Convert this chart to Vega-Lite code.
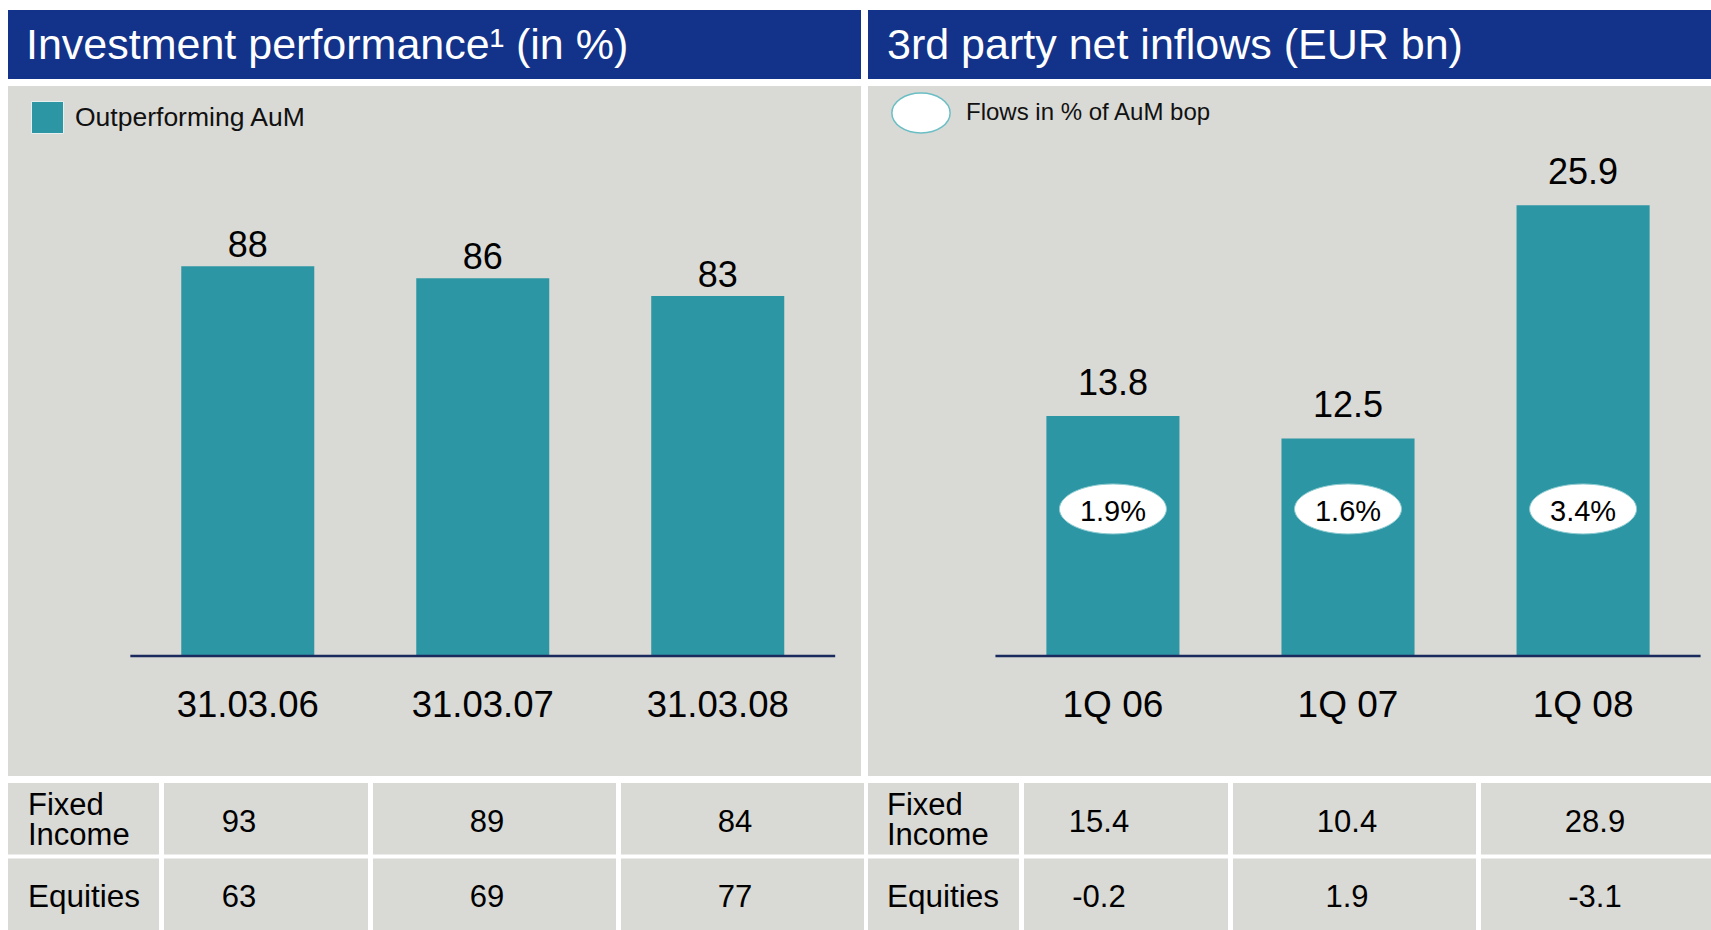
{
  "$schema": "https://vega.github.io/schema/vega-lite/v6.json",
  "background": "#FFFFFF",
  "padding": {"left": 8, "top": 10, "right": 0, "bottom": 0},
  "config": {
    "font": "Liberation Sans",
    "view": {"stroke": null},
    "axis": {"labelFont": "Liberation Sans"},
    "legend": {"labelFont": "Liberation Sans"},
    "title": {"font": "Liberation Sans"},
    "text": {"font": "Liberation Sans"}
  },
  "datasets": {
    "perf": [
      {"date": "31.03.06", "outperforming": 88},
      {"date": "31.03.07", "outperforming": 86},
      {"date": "31.03.08", "outperforming": 83}
    ],
    "flows": [
      {"quarter": "1Q 06", "net_inflow": 13.8, "pct_aum_bop": 0.019},
      {"quarter": "1Q 07", "net_inflow": 12.5, "pct_aum_bop": 0.016},
      {"quarter": "1Q 08", "net_inflow": 25.9, "pct_aum_bop": 0.034}
    ],
    "perf_table": [
      {"date": "31.03.06", "row": "Fixed Income", "value": 93},
      {"date": "31.03.07", "row": "Fixed Income", "value": 89},
      {"date": "31.03.08", "row": "Fixed Income", "value": 84},
      {"date": "31.03.06", "row": "Equities", "value": 63},
      {"date": "31.03.07", "row": "Equities", "value": 69},
      {"date": "31.03.08", "row": "Equities", "value": 77}
    ],
    "flows_table": [
      {"quarter": "1Q 06", "row": "Fixed Income", "value": 15.4},
      {"quarter": "1Q 07", "row": "Fixed Income", "value": 10.4},
      {"quarter": "1Q 08", "row": "Fixed Income", "value": 28.9},
      {"quarter": "1Q 06", "row": "Equities", "value": -0.2},
      {"quarter": "1Q 07", "row": "Equities", "value": 1.9},
      {"quarter": "1Q 08", "row": "Equities", "value": -3.1}
    ],
    "row_labels": [
      {"row": "Fixed Income", "label": "Fixed\nIncome"},
      {"row": "Equities", "label": "Equities"}
    ]
  },
  "spacing": 4,
  "resolve": {
    "scale": {"color": "independent", "fill": "independent"},
    "legend": {"color": "independent", "fill": "independent"}
  },
  "hconcat": [
    {
      "spacing": 7,
      "resolve": {
        "scale": {"color": "independent", "fill": "independent"},
        "legend": {"color": "independent", "fill": "independent"}
      },
      "vconcat": [
        {
          "width": 853,
          "height": 69,
          "view": {"fill": "#13338A", "stroke": null},
          "title": {"text": "Investment performance¹ (in %)", "orient": "bottom", "anchor": "start", "frame": "group", "offset": -20, "dx": 18, "baseline": "alphabetic", "fontSize": 43, "fontWeight": "normal", "color": "#FFFFFF", "font": "Liberation Sans"},
          "data": {"values": [{}]},
          "mark": {"type": "text", "text": ""}
        },
        {
          "width": 853,
          "height": 690,
          "view": {"fill": "#D9D9D5", "stroke": null},
          "data": {"name": "perf"},
          "encoding": {
            "x": {
              "field": "date", "type": "nominal", "sort": null,
              "scale": {"domain": ["31.03.06", "31.03.07", "31.03.08"], "paddingInner": 0.434, "paddingOuter": 0.532, "align": 0.693},
              "axis": {"orient": "bottom", "offset": -120, "domain": false, "ticks": false, "tickSize": 0, "labelPadding": 60, "labelBaseline": "alphabetic", "labelAngle": 0, "labelFontSize": 36.5, "labelColor": "#000000", "title": null, "grid": false}
            }
          },
          "layer": [
            {
              "mark": {"type": "bar"},
              "encoding": {
                "y": {"field": "outperforming", "type": "quantitative", "scale": {"domain": [2.2, 118.36], "nice": false, "zero": false}, "axis": null},
                "y2": {"datum": 22.4},
                "color": {
                  "datum": "Outperforming AuM", "type": "nominal",
                  "scale": {"range": ["#2C96A4"]},
                  "legend": {"title": null, "orient": "none", "legendX": 23, "legendY": 15, "symbolType": "square", "symbolSize": 1024, "symbolStrokeColor": "#E6EEEE", "symbolStrokeWidth": 1, "symbolOpacity": 1, "labelFontSize": 26.5, "labelColor": "#111111", "labelOffset": 11, "labelLimit": 500, "padding": 0}
                }
              }
            },
            {
              "mark": {"type": "text", "baseline": "alphabetic", "dy": -9.5, "fontSize": 36, "color": "#000000"},
              "encoding": {
                "y": {"field": "outperforming", "type": "quantitative"},
                "text": {"field": "outperforming", "type": "nominal"}
              }
            },
            {
              "data": {"values": [{}]},
              "mark": {"type": "rule", "color": "#1B2A5E", "strokeWidth": 2.5},
              "encoding": {
                "x": {"datum": "31.03.06", "type": "nominal", "bandPosition": -0.383},
                "x2": {"datum": "31.03.08", "bandPosition": 1.383},
                "y": {"datum": 22.4, "type": "quantitative"}
              }
            }
          ]
        },
        {
          "spacing": 5,
          "hconcat": [
            {
              "width": 151, "height": 147,
              "data": {"name": "row_labels"},
              "encoding": {"y": {"field": "row", "type": "nominal", "sort": ["Fixed Income", "Equities"], "scale": {"paddingInner": 0.053, "paddingOuter": 0}, "axis": null}},
              "layer": [
                {"mark": {"type": "rect", "color": "#D9D9D5"}},
                {"transform": [{"filter": {"field": "row", "equal": "Fixed Income"}}], "mark": {"type": "text", "align": "left", "baseline": "middle", "dx": -55.5, "dy": -12.5, "fontSize": 31, "lineHeight": 29.5, "lineBreak": "\n", "color": "#000000"}, "encoding": {"text": {"field": "label", "type": "nominal"}}},
                {"transform": [{"filter": {"field": "row", "equal": "Equities"}}], "mark": {"type": "text", "align": "left", "baseline": "middle", "dx": -55.5, "dy": 4, "fontSize": 31.5, "color": "#000000"}, "encoding": {"text": {"field": "label", "type": "nominal"}}}
              ]
            },
            {
              "width": 204, "height": 147,
              "data": {"name": "perf_table"},
              "transform": [{"filter": {"field": "date", "equal": "31.03.06"}}],
              "encoding": {"y": {"field": "row", "type": "nominal", "sort": ["Fixed Income", "Equities"], "scale": {"paddingInner": 0.053, "paddingOuter": 0}, "axis": null}},
              "layer": [
                {"mark": {"type": "rect", "color": "#D9D9D5"}},
                {"mark": {"type": "text", "align": "center", "baseline": "middle", "dx": -27, "dy": 4, "fontSize": 31, "color": "#000000"}, "encoding": {"text": {"field": "value", "type": "nominal"}}}
              ]
            },
            {
              "width": 243, "height": 147,
              "data": {"name": "perf_table"},
              "transform": [{"filter": {"field": "date", "equal": "31.03.07"}}],
              "encoding": {"y": {"field": "row", "type": "nominal", "sort": ["Fixed Income", "Equities"], "scale": {"paddingInner": 0.053, "paddingOuter": 0}, "axis": null}},
              "layer": [
                {"mark": {"type": "rect", "color": "#D9D9D5"}},
                {"mark": {"type": "text", "align": "center", "baseline": "middle", "dx": -7.5, "dy": 4, "fontSize": 31, "color": "#000000"}, "encoding": {"text": {"field": "value", "type": "nominal"}}}
              ]
            },
            {
              "width": 243, "height": 147,
              "data": {"name": "perf_table"},
              "transform": [{"filter": {"field": "date", "equal": "31.03.08"}}],
              "encoding": {"y": {"field": "row", "type": "nominal", "sort": ["Fixed Income", "Equities"], "scale": {"paddingInner": 0.053, "paddingOuter": 0}, "axis": null}},
              "layer": [
                {"mark": {"type": "rect", "color": "#D9D9D5"}},
                {"mark": {"type": "text", "align": "center", "baseline": "middle", "dx": -7.5, "dy": 4, "fontSize": 31, "color": "#000000"}, "encoding": {"text": {"field": "value", "type": "nominal"}}}
              ]
            }
          ]
        }
      ]
    },
    {
      "spacing": 7,
      "resolve": {
        "scale": {"color": "independent", "fill": "independent"},
        "legend": {"color": "independent", "fill": "independent"}
      },
      "vconcat": [
        {
          "width": 843,
          "height": 69,
          "view": {"fill": "#13338A", "stroke": null},
          "title": {"text": "3rd party net inflows (EUR bn)", "orient": "bottom", "anchor": "start", "frame": "group", "offset": -20, "dx": 19, "baseline": "alphabetic", "fontSize": 43, "fontWeight": "normal", "color": "#FFFFFF", "font": "Liberation Sans"},
          "data": {"values": [{}]},
          "mark": {"type": "text", "text": ""}
        },
        {
          "width": 843,
          "height": 690,
          "view": {"fill": "#D9D9D5", "stroke": null},
          "data": {"name": "flows"},
          "encoding": {
            "x": {
              "field": "quarter", "type": "nominal", "sort": null,
              "scale": {"domain": ["1Q 06", "1Q 07", "1Q 08"], "paddingInner": 0.434, "paddingOuter": 0.51, "align": 0.744},
              "axis": {"orient": "bottom", "offset": -120, "domain": false, "ticks": false, "tickSize": 0, "labelPadding": 60, "labelBaseline": "alphabetic", "labelAngle": 0, "labelFontSize": 37, "labelColor": "#000000", "title": null, "grid": false}
            }
          },
          "layer": [
            {
              "mark": {"type": "bar", "color": "#2C96A4"},
              "encoding": {
                "y": {"field": "net_inflow", "type": "quantitative", "scale": {"domain": [-6.897, 32.759], "nice": false, "zero": false}, "axis": null}
              }
            },
            {
              "mark": {"type": "text", "baseline": "alphabetic", "dy": -21, "fontSize": 36, "color": "#000000"},
              "encoding": {
                "y": {"field": "net_inflow", "type": "quantitative"},
                "text": {"field": "net_inflow", "type": "nominal"}
              }
            },
            {
              "mark": {"type": "point", "shape": "M-1,0A1,0.467,0,1,0,1,0A1,0.467,0,1,0,-1,0Z", "size": 11449, "filled": true, "opacity": 1, "stroke": "#8CCBD1", "strokeWidth": 1},
              "encoding": {
                "y": {"datum": 8.45, "type": "quantitative"},
                "fill": {
                  "datum": "Flows in % of AuM bop", "type": "nominal",
                  "scale": {"range": ["#FFFFFF"]},
                  "legend": {"title": null, "orient": "none", "legendX": 32, "legendY": 6, "symbolType": "M-1.457,0A1.457,1,0,1,0,1.457,0A1.457,1,0,1,0,-1.457,0Z", "symbolSize": 1600, "symbolStrokeColor": "#6BBFC4", "symbolStrokeWidth": 1.5, "symbolOpacity": 1, "labelFontSize": 24, "labelColor": "#111111", "labelOffset": 24, "labelLimit": 500, "padding": 0}
                }
              }
            },
            {
              "mark": {"type": "text", "baseline": "middle", "dy": 3, "fontSize": 29, "color": "#000000"},
              "encoding": {
                "y": {"datum": 8.45, "type": "quantitative"},
                "text": {"field": "pct_aum_bop", "type": "quantitative", "format": ".1%"}
              }
            },
            {
              "data": {"values": [{}]},
              "mark": {"type": "rule", "color": "#1B2A5E", "strokeWidth": 2.5},
              "encoding": {
                "x": {"datum": "1Q 06", "type": "nominal", "bandPosition": -0.383},
                "x2": {"datum": "1Q 08", "bandPosition": 1.383},
                "y": {"datum": 0, "type": "quantitative"}
              }
            }
          ]
        },
        {
          "spacing": 5,
          "hconcat": [
            {
              "width": 151, "height": 147,
              "data": {"name": "row_labels"},
              "encoding": {"y": {"field": "row", "type": "nominal", "sort": ["Fixed Income", "Equities"], "scale": {"paddingInner": 0.053, "paddingOuter": 0}, "axis": null}},
              "layer": [
                {"mark": {"type": "rect", "color": "#D9D9D5"}},
                {"transform": [{"filter": {"field": "row", "equal": "Fixed Income"}}], "mark": {"type": "text", "align": "left", "baseline": "middle", "dx": -56.5, "dy": -12.5, "fontSize": 31, "lineHeight": 29.5, "lineBreak": "\n", "color": "#000000"}, "encoding": {"text": {"field": "label", "type": "nominal"}}},
                {"transform": [{"filter": {"field": "row", "equal": "Equities"}}], "mark": {"type": "text", "align": "left", "baseline": "middle", "dx": -56.5, "dy": 4, "fontSize": 31.5, "color": "#000000"}, "encoding": {"text": {"field": "label", "type": "nominal"}}}
              ]
            },
            {
              "width": 204, "height": 147,
              "data": {"name": "flows_table"},
              "transform": [{"filter": {"field": "quarter", "equal": "1Q 06"}}],
              "encoding": {"y": {"field": "row", "type": "nominal", "sort": ["Fixed Income", "Equities"], "scale": {"paddingInner": 0.053, "paddingOuter": 0}, "axis": null}},
              "layer": [
                {"mark": {"type": "rect", "color": "#D9D9D5"}},
                {"mark": {"type": "text", "align": "center", "baseline": "middle", "dx": -27, "dy": 4, "fontSize": 31, "color": "#000000"}, "encoding": {"text": {"field": "value", "type": "nominal"}}}
              ]
            },
            {
              "width": 243, "height": 147,
              "data": {"name": "flows_table"},
              "transform": [{"filter": {"field": "quarter", "equal": "1Q 07"}}],
              "encoding": {"y": {"field": "row", "type": "nominal", "sort": ["Fixed Income", "Equities"], "scale": {"paddingInner": 0.053, "paddingOuter": 0}, "axis": null}},
              "layer": [
                {"mark": {"type": "rect", "color": "#D9D9D5"}},
                {"mark": {"type": "text", "align": "center", "baseline": "middle", "dx": -7.5, "dy": 4, "fontSize": 31, "color": "#000000"}, "encoding": {"text": {"field": "value", "type": "nominal"}}}
              ]
            },
            {
              "width": 230, "height": 147,
              "data": {"name": "flows_table"},
              "transform": [{"filter": {"field": "quarter", "equal": "1Q 08"}}],
              "encoding": {"y": {"field": "row", "type": "nominal", "sort": ["Fixed Income", "Equities"], "scale": {"paddingInner": 0.053, "paddingOuter": 0}, "axis": null}},
              "layer": [
                {"mark": {"type": "rect", "color": "#D9D9D5"}},
                {"mark": {"type": "text", "align": "center", "baseline": "middle", "dx": -1, "dy": 4, "fontSize": 31, "color": "#000000"}, "encoding": {"text": {"field": "value", "type": "nominal"}}}
              ]
            }
          ]
        }
      ]
    }
  ]
}
